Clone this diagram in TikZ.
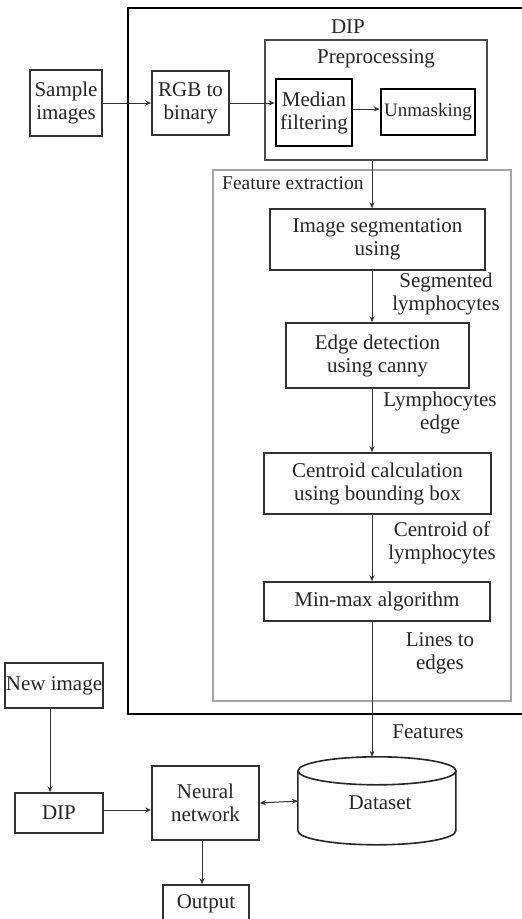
\documentclass[tikz,border=0pt]{standalone}
\usepackage{fontspec}
\setmainfont{Liberation Serif}
\usetikzlibrary{arrows.meta,calc}
\begin{document}
\begin{tikzpicture}[x=1pt,y=-1pt,
  txt/.style={font=\fontsize{21}{23}\selectfont, text=black!85, align=center, inner sep=0pt},
  box/.style={txt, draw=black!80, line width=1.6pt, rectangle},
  tbox/.style={box, draw=black, line width=2.6pt},
  lbl/.style={txt},
  arr/.style={draw=black!80, line width=1pt, -{Stealth[length=6pt,width=5pt]}},
  darr/.style={draw=black!80, line width=1pt, {Stealth[length=6pt,width=5pt]}-{Stealth[length=6pt,width=5pt]}}
]
\useasboundingbox (0,0) rectangle (522,919);
\fill[white] (0,0) rectangle (522,919);

% containers
\node[draw=black, line width=2.8pt, minimum width=400pt, minimum height=706pt, inner sep=0pt] (dip) at (328,361) {};
\node[lbl] (diplbl) at (348,27) {DIP};
\node[draw=black!70, line width=2.6pt, minimum width=222pt, minimum height=120pt, inner sep=0pt] (pre) at (376,100) {};
\node[lbl] (prelbl) at (376,59) {Preprocessing};
\node[draw=black!35, line width=2.4pt, minimum width=298pt, minimum height=531pt, inner sep=0pt] (fe) at (362,435.5) {};
\node[lbl, anchor=west, font=\fontsize{19.5}{21}\selectfont] (felbl) at (222,183) {Feature extraction};

% top row
\node[box, minimum width=72pt, minimum height=66pt] (sample) at (66,103) {Sample\\images};
\node[box, minimum width=77pt, minimum height=64pt] (rgb) at (190.5,103) {RGB to\\binary};
\node[tbox, minimum width=76pt, minimum height=67pt] (median) at (314,112.5) {Median\\filtering};
\node[tbox, minimum width=94pt, minimum height=46pt, font=\fontsize{19}{21}\selectfont] (unmask) at (428,112) {Unmasking};

% feature extraction chain
\coordinate (lx) at (372,0);
\node[box, minimum width=215pt, minimum height=61pt] (seg) at (377.5,239.5) {Image segmentation\\using};
\node[box, minimum width=183pt, minimum height=65pt] (edge) at (377.5,355.5) {Edge detection\\using canny};
\node[box, minimum width=227pt, minimum height=61pt] (cent) at (377.5,483.5) {Centroid calculation\\using bounding box};
\node[box, minimum width=226pt, minimum height=39pt] (minmax) at (377,601.5) {Min-max algorithm};

\node[lbl] (l1) at (446,294) {Segmented\\lymphocytes};
\node[lbl] (l2) at (440,413) {Lymphocytes\\edge};
\node[lbl] (l3) at (442,543) {Centroid of\\lymphocytes};
\node[lbl] (l4) at (440,653) {Lines to\\edges};
\node[lbl] (l5) at (428,732) {Features};

% bottom part
\node[box, minimum width=98pt, minimum height=45pt] (new) at (54,685.5) {New image};
\node[box, minimum width=88pt, minimum height=40pt] (dip2) at (59,813) {DIP};
\node[box, minimum width=107pt, minimum height=74pt] (nn) at (205.5,803) {Neural\\network};
\node[box, minimum width=86pt, minimum height=38pt] (out) at (206,904) {Output};
\node[minimum width=158pt, minimum height=88pt, inner sep=0pt] (ds) at (377,801) {};
\draw[draw=black!85, line width=1.6pt, fill=white]
  (ds.north west) ++(0,14) -- ++(0,60) arc[start angle=180, end angle=0, x radius=79, y radius=14] -- ++(0,-60);
\draw[draw=black!85, line width=1.6pt] ($(ds.north)+(0,14)$) ellipse[x radius=79, y radius=14];
\node[lbl] (dstxt) at (380,803) {Dataset};

% connectors
\draw[arr] (sample.east) -- (rgb.west);
\draw[arr] (rgb.east) -- (rgb.east -| median.west);
\draw[arr] (median.east |- 0,109) -- (unmask.west |- 0,109);
\draw[arr] (pre.south -| lx) -- (seg.north -| lx);
\draw[arr] (seg.south -| lx) -- (edge.north -| lx);
\draw[arr] (edge.south -| lx) -- (cent.north -| lx);
\draw[arr] (cent.south -| lx) -- (minmax.north -| lx);
\draw[arr] (minmax.south -| lx) -- (ds.north -| lx);
\draw[arr] (new.south -| 50,0) -- (dip2.north -| 50,0);
\draw[arr] (dip2.east |- 0,810) -- (nn.west |- 0,810);
\draw[darr] (nn.east) -- (ds.west);
\draw[arr] (nn.south -| 202,0) -- (out.north -| 202,0);
\end{tikzpicture}
\end{document}
